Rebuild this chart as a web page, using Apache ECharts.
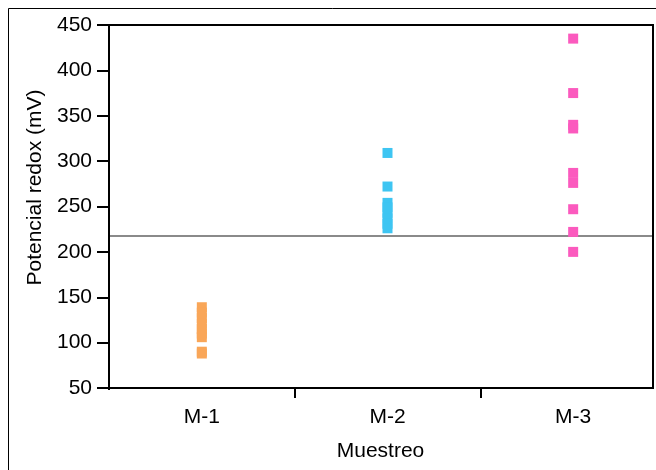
<!DOCTYPE html>
<html><head><meta charset="utf-8">
<script src="https://cdn.jsdelivr.net/npm/echarts@6/dist/echarts.min.js"></script>
<style>html,body{margin:0;padding:0;background:#fff}#c{width:656px;height:470px}</style>
</head><body><div id="c"></div>
<script>
const categories = ['M-1', 'M-2', 'M-3'];
const m1Values = [139, 133, 127, 121, 115, 110, 106, 90, 88];
const m2Values = [309, 272, 254, 249, 243, 237, 231, 226];
const m3Values = [435, 375, 340, 336, 287, 276, 247, 222, 200];
const referenceValue = 218;
const yMin = 50, yMax = 450, yStep = 50;
const xTitle = 'Muestreo';
const yTitle = 'Potencial redox (mV)';

const FONT = "'Liberation Sans', Arial, sans-serif";
const colors = ['#F9A658', '#3EC5F2', '#FB5ABE'];
const seriesValues = [m1Values, m2Values, m3Values];

const chart = echarts.init(document.getElementById('c'), null, {renderer: 'canvas'});

const series = seriesValues.map((vals, i) => ({
  type: 'scatter',
  symbol: 'rect',
  symbolSize: 10,
  itemStyle: {color: colors[i], opacity: 1},
  data: vals.map(v => [categories[i], v]),
  z: 3
}));
series[0].markLine = {
  silent: true,
  symbol: 'none',
  label: {show: false},
  lineStyle: {color: '#8a8a8a', width: 2, type: 'solid'},
  data: [{yAxis: referenceValue}],
  z: 2
};

chart.setOption({
  animation: false,
  backgroundColor: '#fff',
  textStyle: {fontFamily: FONT},
  grid: {left: 109, top: 25, width: 557, bottom: 82, containLabel: false, outerBoundsMode: 'none', show: false},
  xAxis: {
    type: 'category',
    data: categories,
    boundaryGap: true,
    name: xTitle,
    nameLocation: 'middle',
    nameGap: 53,
    nameTextStyle: {fontSize: 21, color: '#000', fontFamily: FONT, padding: [0, 14, 0, 0]},
    axisLine: {show: true, lineStyle: {color: '#000', width: 2}},
    axisTick: {show: true, length: 10, interval: 0, lineStyle: {color: '#000', width: 2}},
    axisLabel: {fontSize: 21, color: '#000', margin: 19, fontFamily: FONT},
    splitLine: {show: false}
  },
  yAxis: {
    type: 'value',
    min: yMin, max: yMax, interval: yStep,
    name: yTitle,
    nameLocation: 'middle',
    nameGap: 62,
    nameTextStyle: {fontSize: 21, color: '#000', fontFamily: FONT, padding: [0, 0, 0, 38]},
    axisLine: {show: true, lineStyle: {color: '#000', width: 2}},
    axisTick: {show: true, length: 12, lineStyle: {color: '#000', width: 2}},
    axisLabel: {fontSize: 21, color: '#000', margin: 17, fontFamily: FONT},
    splitLine: {show: false}
  },
  series: series,
  graphic: [
    {type: 'rect', z: 100, silent: true, shape: {x: 8.5, y: 8.5, width: 700, height: 500},
     style: {fill: 'none', stroke: '#000', lineWidth: 1}},
    {type: 'rect', z: 90, silent: true, shape: {x: 654, y: 20, width: 10, height: 460},
     style: {fill: '#fff', stroke: 'none'}},
    {type: 'rect', z: 90, silent: true, shape: {x: 104, y: 390, width: 9, height: 12},
     style: {fill: '#fff', stroke: 'none'}},
    {type: 'rect', z: 95, silent: true, shape: {x: 109, y: 25, width: 544, height: 363},
     style: {fill: 'none', stroke: '#000', lineWidth: 2}}
  ]
});
</script></body></html>
